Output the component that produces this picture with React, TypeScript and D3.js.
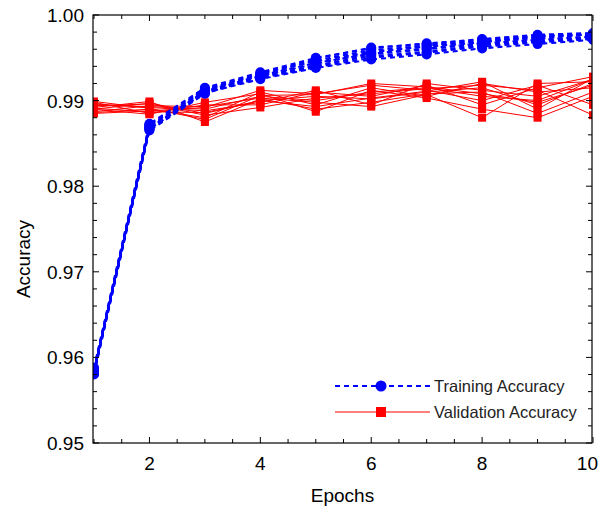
import React from "react";
import * as d3 from "d3";

const epochs = [1, 2, 3, 4, 5, 6, 7, 8, 9, 10];

const trainingRuns: number[][] = [
  [0.9582, 0.9868, 0.9911, 0.9929, 0.9944, 0.9955, 0.9961, 0.9967, 0.9971, 0.9975],
  [0.9585, 0.987, 0.9913, 0.993, 0.9947, 0.9959, 0.9964, 0.997, 0.9974, 0.9977],
  [0.9581, 0.9866, 0.991, 0.9926, 0.9939, 0.9950, 0.9956, 0.9963, 0.9968, 0.9972],
  [0.9587, 0.9872, 0.9914, 0.9931, 0.9949, 0.9962, 0.9966, 0.9972, 0.9977, 0.9979],
  [0.9583, 0.9867, 0.9909, 0.9925, 0.9938, 0.9948, 0.9954, 0.9961, 0.9966, 0.9971],
  [0.9586, 0.9871, 0.9912, 0.9932, 0.9946, 0.9957, 0.9963, 0.9968, 0.9975, 0.9977],
  [0.958, 0.9865, 0.9908, 0.9928, 0.9941, 0.9952, 0.9957, 0.9965, 0.9969, 0.9973],
  [0.9584, 0.9869, 0.9911, 0.9929, 0.9943, 0.9956, 0.9965, 0.9969, 0.9972, 0.9978],
  [0.9588, 0.9873, 0.9915, 0.9933, 0.995, 0.9961, 0.9967, 0.9971, 0.9976, 0.9978],
  [0.9582, 0.9868, 0.991, 0.9927, 0.9940, 0.9954, 0.996, 0.9966, 0.9970, 0.9974],
];

const validationRuns: number[][] = [
  [0.9895, 0.9893, 0.989, 0.9905, 0.99, 0.991, 0.9915, 0.9905, 0.99, 0.9925],
  [0.989, 0.9897, 0.9885, 0.99, 0.9905, 0.9902, 0.991, 0.9915, 0.9895, 0.992],
  [0.9886, 0.989, 0.988, 0.991, 0.9895, 0.9915, 0.9905, 0.992, 0.991, 0.9915],
  [0.9898, 0.9885, 0.9895, 0.9895, 0.991, 0.9905, 0.9918, 0.9895, 0.9915, 0.9928],
  [0.9892, 0.9899, 0.9875, 0.9902, 0.989, 0.9898, 0.9908, 0.991, 0.9885, 0.991],
  [0.9885, 0.9888, 0.9892, 0.9912, 0.9908, 0.9918, 0.9912, 0.99, 0.9918, 0.9895],
  [0.9896, 0.9892, 0.9888, 0.9898, 0.9912, 0.9895, 0.992, 0.9912, 0.9905, 0.9925],
  [0.989, 0.9884, 0.9898, 0.9908, 0.9887, 0.9912, 0.9903, 0.989, 0.988, 0.9905],
  [0.9894, 0.9896, 0.9883, 0.9892, 0.9903, 0.9908, 0.9914, 0.9918, 0.9912, 0.9883],
  [0.9887, 0.9894, 0.9893, 0.9903, 0.9898, 0.9893, 0.9907, 0.988, 0.992, 0.9922],
  [0.9899, 0.9891, 0.9878, 0.9906, 0.9907, 0.992, 0.9916, 0.9908, 0.9898, 0.9918],
  [0.9891, 0.9887, 0.9886, 0.99, 0.9893, 0.9903, 0.9911, 0.9922, 0.989, 0.9926],
];

const xMajorTicks = [2, 4, 6, 8, 10];
const yMajorTicks = [0.95, 0.96, 0.97, 0.98, 0.99, 1.0];
const legendLabels = ["Training Accuracy", "Validation Accuracy"];

const W = 599;
const H = 512;
const L = 93;
const R = 592;
const T = 15;
const B = 443;
const FONT = "'Liberation Sans', Arial, Helvetica, sans-serif";

export default function App() {
  const x = d3.scaleLinear().domain([1, 10]).range([L + 1, R + 1]);
  const y = d3.scaleLinear().domain([0.95, 1.0]).range([B, T]);
  const line = d3
    .line<number>()
    .x((_, i) => x(epochs[i]))
    .y((d) => y(d));

  const xMinor = d3.range(1, 10.01, 0.5);
  const yMinor = d3.range(0.95, 1.0001, 0.002);
  const blue = "#0000ff";
  const red = "#ff0000";
  const sq = 8;

  return (
    <svg
      width={W}
      height={H}
      style={{ position: "absolute", left: 0, top: 0, background: "#fff" }}
    >
      <defs>
        <clipPath id="plotclip">
          <rect x={L} y={T} width={R - L} height={B - T} />
        </clipPath>
      </defs>
      <g clipPath="url(#plotclip)">
        {validationRuns.map((run, k) => (
          <g key={"v" + k}>
            <path d={line(run) || ""} fill="none" stroke={red} strokeWidth={1} />
            {run.map((v, i) => (
              <rect
                key={i}
                x={x(epochs[i]) - sq / 2}
                y={y(v) - sq / 2}
                width={sq}
                height={sq}
                fill={red}
              />
            ))}
          </g>
        ))}
        {trainingRuns.map((run, k) => (
          <g key={"t" + k}>
            <path
              d={line(run) || ""}
              fill="none"
              stroke={blue}
              strokeWidth={2}
              strokeDasharray="5,4"
            />
            {run.map((v, i) => (
              <circle key={i} cx={x(epochs[i])} cy={y(v)} r={5} fill={blue} />
            ))}
          </g>
        ))}
      </g>

      {/* frame */}
      <rect x={L} y={T} width={R - L} height={B - T} fill="none" stroke="#000" strokeWidth={1.2} />

      {/* ticks */}
      {xMinor.map((t) => {
        const major = xMajorTicks.includes(t);
        const len = major ? 6 : 4;
        const px = x(t);
        return (
          <g key={"xt" + t}>
            <line x1={px} x2={px} y1={B} y2={B - len} stroke="#000" strokeWidth={1} />
            <line x1={px} x2={px} y1={T} y2={T + len} stroke="#000" strokeWidth={1} />
          </g>
        );
      })}
      {yMinor.map((t, i) => {
        const major = i % 5 === 0;
        const len = major ? 6 : 4;
        const py = y(t);
        return (
          <g key={"yt" + i}>
            <line x1={L} x2={L + len} y1={py} y2={py} stroke="#000" strokeWidth={1} />
            <line x1={R} x2={R - len} y1={py} y2={py} stroke="#000" strokeWidth={1} />
          </g>
        );
      })}

      {xMajorTicks.map((t) => {
        const last = t === 10;
        return (
          <text
            key={"xl" + t}
            x={last ? 598 : x(t)}
            y={B + 27}
            textAnchor={last ? "end" : "middle"}
            fontFamily={FONT}
            fontSize={19}
            fill="#000"
          >
            {t}
          </text>
        );
      })}
      {yMajorTicks.map((t) => (
        <text
          key={"yl" + t}
          x={L - 9}
          y={y(t) + 7}
          textAnchor="end"
          fontFamily={FONT}
          fontSize={19}
          fill="#000"
        >
          {t.toFixed(2)}
        </text>
      ))}

      <text
        x={(L + R) / 2}
        y={502}
        textAnchor="middle"
        fontFamily={FONT}
        fontSize={19}
        fill="#000"
      >
        Epochs
      </text>
      <text
        transform={`translate(30, ${(T + B) / 2 + 30}) rotate(-90)`}
        textAnchor="middle"
        fontFamily={FONT}
        fontSize={19}
        fill="#000"
      >
        Accuracy
      </text>

      {/* legend */}
      <g>
        <line x1={335} x2={430} y1={386} y2={386} stroke={blue} strokeWidth={2} strokeDasharray="5,4" />
        <circle cx={381} cy={386} r={5.5} fill={blue} />
        <text x={434} y={392} fontFamily={FONT} fontSize={16.5} fill="#222">
          {legendLabels[0]}
        </text>
        <line x1={335} x2={430} y1={412} y2={412} stroke="#ff5555" strokeWidth={1.5} />
        <rect x={376} y={407} width={10} height={10} fill={red} />
        <text x={434} y={418} fontFamily={FONT} fontSize={16.5} fill="#222">
          {legendLabels[1]}
        </text>
      </g>
    </svg>
  );
}
